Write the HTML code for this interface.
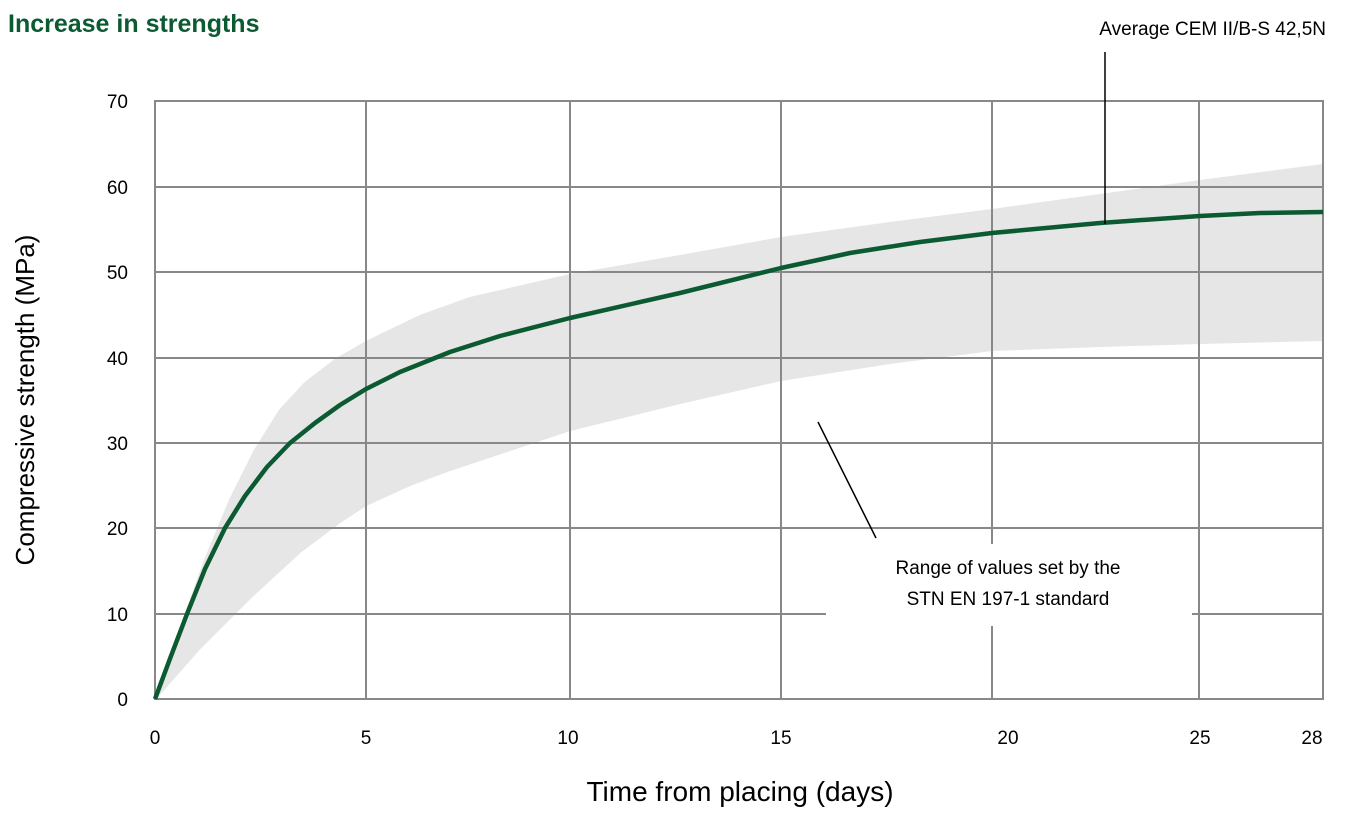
<!DOCTYPE html>
<html><head><meta charset="utf-8"><style>
body{margin:0;background:#fff;}
svg{display:block;font-family:"Liberation Sans",sans-serif;}
</style></head><body>
<svg width="1353" height="819" viewBox="0 0 1353 819">
<text x="8" y="32" font-size="25" font-weight="bold" fill="#0b5a32">Increase in strengths</text>
<polygon points="155,699 180,630 205,560 230,500 255,450 280,410 305,383 335,360 366,342 420,316 470,298 570,275 680,256 781,238 890,223 992,210 1100,195 1200,181 1323,165 1323,340 1200,343 1100,346 992,350 890,363 781,380 680,403 570,430 510,450 450,470 410,485 366,505 340,522 300,552 250,598 200,648" fill="#e6e6e6" stroke="#e6e6e6" stroke-linejoin="round" stroke-width="2"/>
<g stroke="#888" stroke-width="2" fill="none">
<rect x="155" y="101" width="1168" height="598"/>
<line x1="155" y1="187" x2="1323" y2="187"/>
<line x1="155" y1="272" x2="1323" y2="272"/>
<line x1="155" y1="358" x2="1323" y2="358"/>
<line x1="155" y1="443" x2="1323" y2="443"/>
<line x1="155" y1="528" x2="1323" y2="528"/>
<line x1="155" y1="614" x2="1323" y2="614"/>
<line x1="366" y1="101" x2="366" y2="699"/>
<line x1="570" y1="101" x2="570" y2="699"/>
<line x1="781" y1="101" x2="781" y2="699"/>
<line x1="992" y1="101" x2="992" y2="699"/>
<line x1="1199" y1="101" x2="1199" y2="699"/>
</g>
<rect x="826" y="544" width="366" height="82" fill="#fff"/>
<polyline points="155,699 171,656 187,614 205,569 225,528 245,496 267,467 290,443 315,423 340,405 366,389 400,372 450,352 500,336 570,318 680,293 781,268 850,253 920,242 992,233 1100,223 1200,216 1260,213 1323,212" fill="none" stroke="#0b5a32" stroke-width="4.5" stroke-linejoin="round"/>
<line x1="1105" y1="52" x2="1105" y2="224" stroke="#000" stroke-width="1.5"/>
<line x1="818" y1="422" x2="876" y2="538" stroke="#000" stroke-width="1.5"/>
<text x="1326" y="35" font-size="19" text-anchor="end">Average CEM II/B-S 42,5N</text>
<text x="1008" y="574" font-size="19" text-anchor="middle">Range of values set by the</text>
<text x="1008" y="605" font-size="19" text-anchor="middle">STN EN 197-1 standard</text>
<g font-size="19" text-anchor="end">
<text x="128" y="108">70</text><text x="128" y="194">60</text><text x="128" y="279">50</text>
<text x="128" y="365">40</text><text x="128" y="450">30</text><text x="128" y="535">20</text>
<text x="128" y="621">10</text><text x="128" y="706">0</text>
</g>
<g font-size="19" text-anchor="middle">
<text x="155" y="744">0</text><text x="366" y="744">5</text><text x="568" y="744">10</text>
<text x="781" y="744">15</text><text x="1008" y="744">20</text><text x="1200" y="744">25</text><text x="1312" y="744">28</text>
</g>
<text x="740" y="801" font-size="28" text-anchor="middle">Time from placing (days)</text>
<text transform="translate(34,400) rotate(-90)" font-size="26" text-anchor="middle">Compressive strength (MPa)</text>
</svg>
</body></html>
